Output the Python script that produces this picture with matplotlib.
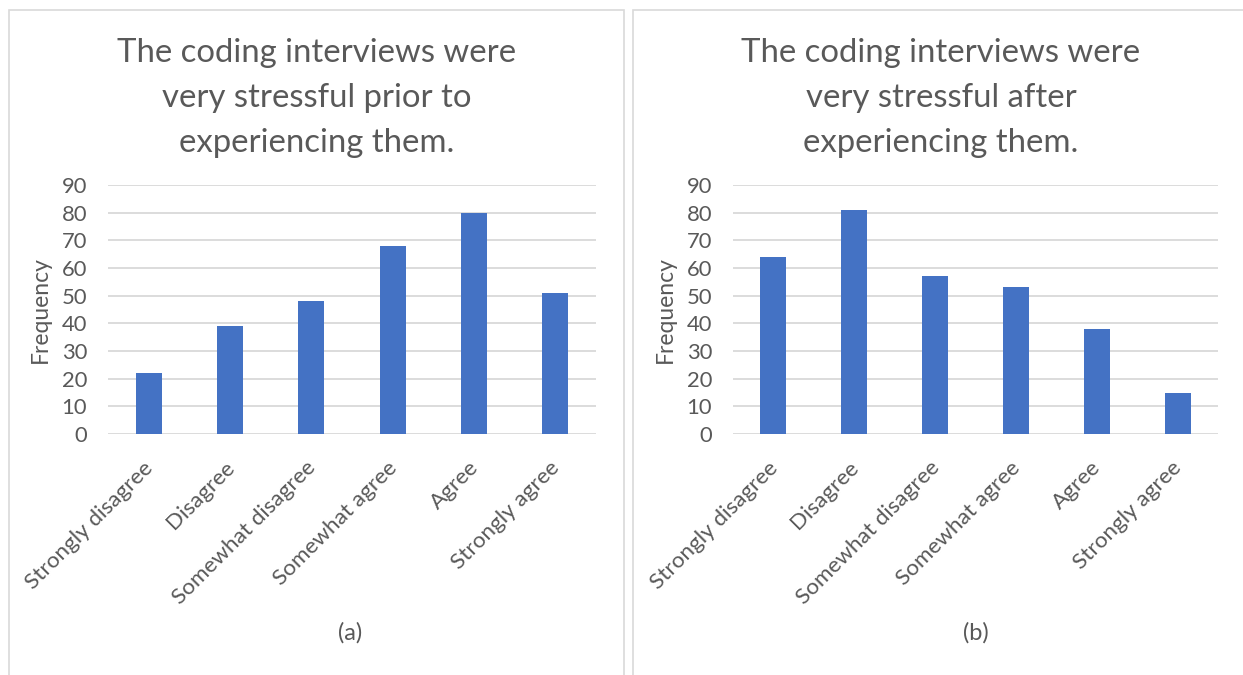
import matplotlib
matplotlib.use("Agg")
import matplotlib.pyplot as plt
from matplotlib.patches import Rectangle
from matplotlib.transforms import ScaledTranslation

categories = ["Strongly disagree", "Disagree", "Somewhat disagree",
              "Somewhat agree", "Agree", "Strongly agree"]
before_values = [22, 39, 48, 68, 80, 51]
after_values = [64, 81, 57, 53, 38, 15]
titles = ["The coding interviews were\nvery stressful prior to\nexperiencing them.",
          "The coding interviews were\nvery stressful after\nexperiencing them."]
captions = ["(a)", "(b)"]
y_ticks = [0, 10, 20, 30, 40, 50, 60, 70, 80, 90]

plt.rcParams['font.family'] = ['Lato', 'DejaVu Sans']
TXT = "#595959"
BAR = "#4472C4"
GRID = "#D9D9D9"

W, H = 1243, 675
fig = plt.figure(figsize=(W / 100, H / 100), dpi=100)

def fx(px):
    return px / W

def fy(py):
    return 1 - py / H

# panel borders (pixel coords)
panels = [(9, 10, 624, 700), (633, 10, 1260, 700)]
for (x0, y0, x1, y1) in panels:
    fig.patches.append(Rectangle((fx(x0), fy(y1)), fx(x1) - fx(x0), fy(y0) - fy(y1),
                                 transform=fig.transFigure, fill=False,
                                 edgecolor="#D9D9D9", linewidth=1.2))

axes_px = [(108, 185, 596, 434), (733, 185, 1218, 434)]
data = [before_values, after_values]
title_cx = [317, 941]
caption_cx = [350, 976]

for i in range(2):
    x0, y0, x1, y1 = axes_px[i]
    ax = fig.add_axes([fx(x0), fy(y1), fx(x1) - fx(x0), fy(y0) - fy(y1)])
    xs = range(len(categories))
    ax.bar(xs, data[i], width=0.32, color=BAR, zorder=3)
    ax.set_xlim(-0.5, len(categories) - 0.5)
    ax.set_ylim(0, 90)
    ax.set_yticks(y_ticks)
    ax.yaxis.grid(True, color=GRID, linewidth=1.3, zorder=0)
    ax.set_axisbelow(True)
    for s in ax.spines.values():
        s.set_visible(False)
    ax.tick_params(axis='y', length=0, colors=TXT, labelsize=15.8, pad=15)
    ax.set_xticks(list(xs))
    ax.set_xticklabels(categories, rotation=45, ha='right', rotation_mode='anchor')
    ax.tick_params(axis='x', length=0, colors=TXT, labelsize=16.2, pad=17)
    offset = ScaledTranslation(-6 / 100, 0, fig.dpi_scale_trans)
    for lab in ax.get_xticklabels():
        lab.set_transform(lab.get_transform() + offset)
    ax.set_ylabel("Frequency", color=TXT, fontsize=16.5, labelpad=8)
    fig.text(fx(title_cx[i]), fy(98), titles[i], ha='center', va='center',
             fontsize=23.7, color=TXT, linespacing=1.62)
    fig.text(fx(caption_cx[i]), fy(633), captions[i], ha='center', va='center',
             fontsize=17, color=TXT)

fig.savefig("out.png", dpi=100, facecolor="white")
